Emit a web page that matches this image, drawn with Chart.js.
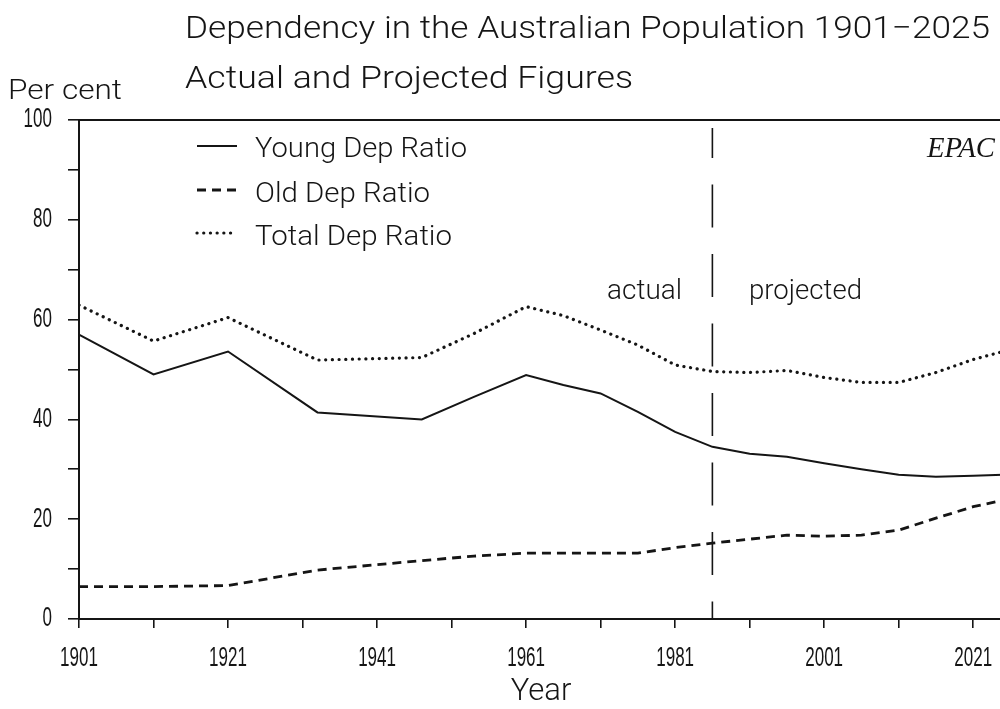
<!DOCTYPE html>
<html><head><meta charset="utf-8">
<script src="https://cdn.jsdelivr.net/npm/chart.js@4"></script>
<style>
html,body{margin:0;padding:0;background:#fff;overflow:hidden;width:1000px;height:709px}
#wrap{position:absolute;left:0;top:0;width:1010px;height:709px}
</style></head><body>
<div id="wrap"><canvas id="c" width="1010" height="709"></canvas></div>
<script>
// ---- data ----
const years     = [1901,1911,1921,1933,1947,1954,1961,1966,1971,1976,1981,1986,1991,1996,2001,2006,2011,2016,2021,2025];
const youngDep  = [57.0,49.0,53.6,41.4,40.0,44.5,48.9,46.9,45.2,41.5,37.5,34.5,33.1,32.5,31.2,30.0,28.9,28.5,28.7,28.9];
const oldDep    = [ 6.5, 6.5, 6.7, 9.8,11.7,12.6,13.2,13.2,13.2,13.2,14.3,15.2,16.0,16.8,16.6,16.8,17.8,20.2,22.5,23.8];
const totalDep  = [62.9,55.7,60.4,51.9,52.4,57.2,62.6,60.8,57.9,54.9,50.9,49.6,49.4,49.8,48.4,47.4,47.4,49.4,52.0,53.6];
const seriesNames = ['Young Dep Ratio','Old Dep Ratio','Total Dep Ratio'];
const xTickYears  = [1901,1911,1921,1931,1941,1951,1961,1971,1981,1991,2001,2011,2021];
const xLabelYears = [1901,1921,1941,1961,1981,2001,2021];
const yTickValues = [0,10,20,30,40,50,60,70,80,90,100];
const yLabelValues = [0,20,40,60,80,100];
const dividerYear = 1986;
const dividerTop = 98.4;
const xMin = 1901, xMax = 2025;

const INK = '#151515';
const TICKFONT = '"Liberation Sans",Arial,sans-serif';
const SANS = 'Roboto,"Liberation Sans",Arial,sans-serif';

const pts = arr => years.map((y,i)=>({x:y,y:arr[i]}));

function fitText(ctx, text, x, baseline, width, font){
  ctx.save();
  ctx.font = font;
  ctx.fillStyle = INK;
  ctx.textBaseline = 'alphabetic';
  ctx.textAlign = 'left';
  const m = ctx.measureText(text).width;
  ctx.translate(x, baseline);
  ctx.scale(width/m, 1);
  ctx.fillText(text, 0, 0);
  ctx.restore();
}

// draw the library's own tick labels horizontally condensed (plotter-style narrow digits)
function squeezeLabels(scale, sx){
  if (scale._squeezed) return;
  scale._squeezed = true;
  const orig = scale.drawLabels;
  scale.drawLabels = function(chartArea){
    if (typeof this.getLabelItems !== 'function') return orig.call(this, chartArea);
    const ctx = this.ctx;
    let items;
    try { items = this.getLabelItems(chartArea); } catch(e){ return orig.call(this, chartArea); }
    for (const it of items){
      const o = it.options || {};
      const tr = o.translation || [0,0];
      ctx.save();
      ctx.font = it.font.string;
      ctx.fillStyle = o.color || INK;
      ctx.textAlign = o.textAlign || 'center';
      ctx.textBaseline = o.textBaseline || 'middle';
      ctx.translate(tr[0], tr[1]);
      if (o.rotation) ctx.rotate(o.rotation);
      ctx.scale(sx, 1);
      ctx.fillText(String(it.label), 0, it.textOffset || 0);
      ctx.restore();
    }
  };
}

const decor = {
  id:'decor',
  afterDraw(chart){
    const ctx = chart.ctx;
    fitText(ctx,'Dependency in the Australian Population 1901\u22122025',185,38,805,'300 31px '+SANS);
    fitText(ctx,'Actual and Projected Figures',185,88,448,'300 31px '+SANS);
    fitText(ctx,'Per cent',8,99,114,'300 28px '+SANS);
    fitText(ctx,'actual',607,299,75,'300 28px '+SANS);
    fitText(ctx,'projected',749,299,113,'300 28px '+SANS);
    fitText(ctx,'EPAC',927,157,68,'italic 30px "Liberation Serif","Times New Roman",serif');
    // legend
    const rows = [{ly:146,ty:157,w:212},{ly:190,ty:202,w:175},{ly:233,ty:245,w:197}];
    chart.data.datasets.slice(0,3).forEach((ds,i)=>{
      const r = rows[i];
      ctx.save();
      ctx.strokeStyle = ds.borderColor;
      ctx.lineWidth = ds.borderWidth;
      ctx.lineCap = ds.borderCapStyle || 'butt';
      ctx.setLineDash(ds.borderDash || []);
      ctx.beginPath(); ctx.moveTo(197,r.ly); ctx.lineTo(237,r.ly); ctx.stroke();
      ctx.restore();
      fitText(ctx, ds.label, 255, r.ty, r.w, '300 28px '+SANS);
    });
  }
};

new Chart(document.getElementById('c'), {
  type:'line',
  data:{datasets:[
    {label:seriesNames[0], data:pts(youngDep), borderColor:INK, borderWidth:2, pointRadius:0, tension:0, fill:false},
    {label:seriesNames[1], data:pts(oldDep), borderColor:INK, borderWidth:2.8, borderDash:[9,6], pointRadius:0, tension:0, fill:false},
    {label:seriesNames[2], data:pts(totalDep), borderColor:INK, borderWidth:3.2, borderDash:[0.1,6.6], borderCapStyle:'round', pointRadius:0, tension:0, fill:false},
    {label:'divider', data:[{x:dividerYear,y:dividerTop},{x:dividerYear,y:0}], borderColor:INK, borderWidth:1.6, borderDash:[43,26.5], borderDashOffset:13, pointRadius:0, fill:false}
  ]},
  options:{
    responsive:false, animation:false, devicePixelRatio:1,
    layout:{padding:{top:120,right:7,left:0,bottom:0}},
    plugins:{legend:{display:false}, tooltip:{enabled:false}, title:{display:false}},
    scales:{
      x:{type:'linear', position:'bottom', min:xMin, max:xMax,
        afterBuildTicks:s=>{s.ticks = xTickYears.map(v=>({value:v}));},
        afterFit:s=>{s.height = 90; s.paddingLeft = 0; s.paddingRight = 0;},
        afterUpdate:s=>squeezeLabels(s,0.63),
        ticks:{autoSkip:false, maxRotation:0, color:INK, padding:14,
          font:{family:TICKFONT, size:27},
          callback:v=> xLabelYears.includes(v) ? String(v) : ''},
        grid:{drawOnChartArea:false, drawTicks:true, tickLength:9, color:INK, lineWidth:1.6},
        border:{display:true, color:INK, width:2},
        title:{display:true, text:'Year', color:INK, font:{family:SANS, size:31, weight:300}, padding:{top:0,bottom:-2}}
      },
      x2:{type:'linear', position:'top', min:xMin, max:xMax,
        afterFit:s=>{s.height = 0; s.paddingLeft = 0; s.paddingRight = 0;},
        ticks:{display:false}, grid:{display:false, drawTicks:false},
        border:{display:true, color:INK, width:2}
      },
      y:{type:'linear', position:'left', min:0, max:100,
        afterBuildTicks:s=>{s.ticks = yTickValues.map(v=>({value:v}));},
        afterFit:s=>{s.width = 79; s.paddingTop = 0; s.paddingBottom = 0;},
        afterUpdate:s=>squeezeLabels(s,0.63),
        ticks:{autoSkip:false, color:INK, padding:16, font:{family:TICKFONT, size:27},
          callback:v=> yLabelValues.includes(v) ? String(v) : ''},
        grid:{drawOnChartArea:false, drawTicks:true, tickLength:11, color:INK, lineWidth:1.6},
        border:{display:true, color:INK, width:2}
      }
    }
  },
  plugins:[decor]
});
</script>
</body></html>
